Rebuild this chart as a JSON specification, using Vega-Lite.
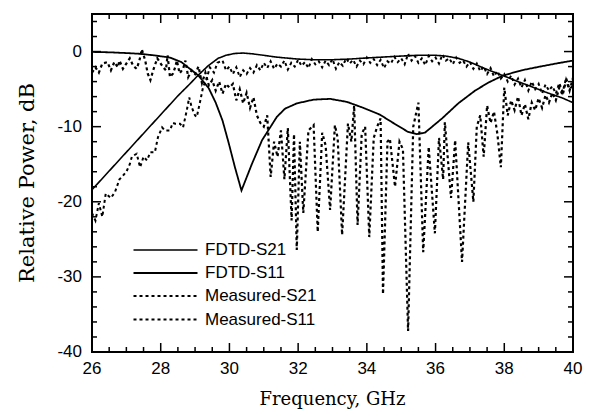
{
 "$schema": "https://vega.github.io/schema/vega-lite/v6.json",
 "width": 481, "height": 338,
 "autosize": "none",
 "padding": {"left": 92, "top": 14, "right": 17, "bottom": 67},
 "background": "white",
 "config": {
  "view": {"stroke": "black", "strokeWidth": 2}
 },
 "datasets": {
  "xt": [{"v":26,"k":"major"},{"v":26.5,"k":"minor"},{"v":27,"k":"minor"},{"v":27.5,"k":"minor"},{"v":28,"k":"major"},{"v":28.5,"k":"minor"},{"v":29,"k":"minor"},{"v":29.5,"k":"minor"},{"v":30,"k":"major"},{"v":30.5,"k":"minor"},{"v":31,"k":"minor"},{"v":31.5,"k":"minor"},{"v":32,"k":"major"},{"v":32.5,"k":"minor"},{"v":33,"k":"minor"},{"v":33.5,"k":"minor"},{"v":34,"k":"major"},{"v":34.5,"k":"minor"},{"v":35,"k":"minor"},{"v":35.5,"k":"minor"},{"v":36,"k":"major"},{"v":36.5,"k":"minor"},{"v":37,"k":"minor"},{"v":37.5,"k":"minor"},{"v":38,"k":"major"},{"v":38.5,"k":"minor"},{"v":39,"k":"minor"},{"v":39.5,"k":"minor"},{"v":40,"k":"major"}],
  "yt": [{"v":-40,"k":"major"},{"v":-38,"k":"minor"},{"v":-36,"k":"minor"},{"v":-34,"k":"minor"},{"v":-32,"k":"minor"},{"v":-30,"k":"major"},{"v":-28,"k":"minor"},{"v":-26,"k":"minor"},{"v":-24,"k":"minor"},{"v":-22,"k":"minor"},{"v":-20,"k":"major"},{"v":-18,"k":"minor"},{"v":-16,"k":"minor"},{"v":-14,"k":"minor"},{"v":-12,"k":"minor"},{"v":-10,"k":"major"},{"v":-8,"k":"minor"},{"v":-6,"k":"minor"},{"v":-4,"k":"minor"},{"v":-2,"k":"minor"},{"v":0,"k":"major"},{"v":2,"k":"minor"},{"v":4,"k":"minor"}]
 },
 "data": {"values": [
  {"series":"FDTD-S21","freq":26,"db":-18.4},{"series":"FDTD-S21","freq":27,"db":-13.4},{"series":"FDTD-S21","freq":28,"db":-8.4},{"series":"FDTD-S21","freq":28.5,"db":-5.9},{"series":"FDTD-S21","freq":28.85,"db":-4.3},{"series":"FDTD-S21","freq":29.08,"db":-3.2},{"series":"FDTD-S21","freq":29.38,"db":-1.9},{"series":"FDTD-S21","freq":29.67,"db":-0.9},{"series":"FDTD-S21","freq":29.9,"db":-0.5},{"series":"FDTD-S21","freq":30.16,"db":-0.25},{"series":"FDTD-S21","freq":30.4,"db":-0.2},{"series":"FDTD-S21","freq":30.66,"db":-0.3},{"series":"FDTD-S21","freq":31.0,"db":-0.5},{"series":"FDTD-S21","freq":31.3,"db":-0.7},{"series":"FDTD-S21","freq":31.62,"db":-0.85},{"series":"FDTD-S21","freq":32.0,"db":-1.0},{"series":"FDTD-S21","freq":32.5,"db":-1.1},{"series":"FDTD-S21","freq":32.93,"db":-1.1},{"series":"FDTD-S21","freq":33.5,"db":-1.0},{"series":"FDTD-S21","freq":34.0,"db":-0.85},{"series":"FDTD-S21","freq":34.4,"db":-0.75},{"series":"FDTD-S21","freq":35.0,"db":-0.6},{"series":"FDTD-S21","freq":35.5,"db":-0.5},{"series":"FDTD-S21","freq":36.0,"db":-0.5},{"series":"FDTD-S21","freq":36.3,"db":-0.6},{"series":"FDTD-S21","freq":36.66,"db":-0.9},{"series":"FDTD-S21","freq":37.0,"db":-1.4},{"series":"FDTD-S21","freq":37.4,"db":-2.2},{"series":"FDTD-S21","freq":37.96,"db":-3.2},{"series":"FDTD-S21","freq":38.4,"db":-4.0},{"series":"FDTD-S21","freq":38.75,"db":-4.6},{"series":"FDTD-S21","freq":39.2,"db":-5.4},{"series":"FDTD-S21","freq":39.7,"db":-6.2},{"series":"FDTD-S21","freq":40,"db":-6.8},
  {"series":"FDTD-S11","freq":26,"db":-0.05},{"series":"FDTD-S11","freq":26.5,"db":-0.1},{"series":"FDTD-S11","freq":27,"db":-0.2},{"series":"FDTD-S11","freq":27.4,"db":-0.3},{"series":"FDTD-S11","freq":27.8,"db":-0.5},{"series":"FDTD-S11","freq":28.27,"db":-0.8},{"series":"FDTD-S11","freq":28.6,"db":-1.4},{"series":"FDTD-S11","freq":28.85,"db":-2.3},{"series":"FDTD-S11","freq":29.1,"db":-3.2},{"series":"FDTD-S11","freq":29.4,"db":-4.9},{"series":"FDTD-S11","freq":29.6,"db":-6.8},{"series":"FDTD-S11","freq":29.8,"db":-9.2},{"series":"FDTD-S11","freq":29.98,"db":-12.2},{"series":"FDTD-S11","freq":30.16,"db":-15.4},{"series":"FDTD-S11","freq":30.35,"db":-18.5},{"series":"FDTD-S11","freq":30.66,"db":-14.9},{"series":"FDTD-S11","freq":30.95,"db":-11.8},{"series":"FDTD-S11","freq":31.13,"db":-10.5},{"series":"FDTD-S11","freq":31.38,"db":-8.7},{"series":"FDTD-S11","freq":31.62,"db":-7.6},{"series":"FDTD-S11","freq":31.96,"db":-6.9},{"series":"FDTD-S11","freq":32.45,"db":-6.4},{"series":"FDTD-S11","freq":32.93,"db":-6.3},{"series":"FDTD-S11","freq":33.42,"db":-6.7},{"series":"FDTD-S11","freq":33.9,"db":-7.5},{"series":"FDTD-S11","freq":34.38,"db":-8.4},{"series":"FDTD-S11","freq":34.73,"db":-9.4},{"series":"FDTD-S11","freq":35.2,"db":-10.7},{"series":"FDTD-S11","freq":35.45,"db":-11.0},{"series":"FDTD-S11","freq":35.69,"db":-10.8},{"series":"FDTD-S11","freq":36.19,"db":-8.9},{"series":"FDTD-S11","freq":36.66,"db":-6.9},{"series":"FDTD-S11","freq":37.15,"db":-5.2},{"series":"FDTD-S11","freq":37.55,"db":-4.1},{"series":"FDTD-S11","freq":37.96,"db":-3.2},{"series":"FDTD-S11","freq":38.5,"db":-2.5},{"series":"FDTD-S11","freq":39.04,"db":-2.0},{"series":"FDTD-S11","freq":39.5,"db":-1.6},{"series":"FDTD-S11","freq":40,"db":-1.2},
  {"series":"Measured-S21","freq":26.0,"db":-21.5},{"series":"Measured-S21","freq":26.1,"db":-22.5},{"series":"Measured-S21","freq":26.2,"db":-20.2},{"series":"Measured-S21","freq":26.3,"db":-22.0},{"series":"Measured-S21","freq":26.4,"db":-18.9},{"series":"Measured-S21","freq":26.55,"db":-19.5},{"series":"Measured-S21","freq":26.67,"db":-18.7},{"series":"Measured-S21","freq":26.8,"db":-17.0},{"series":"Measured-S21","freq":26.87,"db":-16.7},{"series":"Measured-S21","freq":27.0,"db":-16.0},{"series":"Measured-S21","freq":27.1,"db":-15.0},{"series":"Measured-S21","freq":27.16,"db":-14.0},{"series":"Measured-S21","freq":27.3,"db":-13.6},{"series":"Measured-S21","freq":27.4,"db":-15.4},{"series":"Measured-S21","freq":27.5,"db":-14.0},{"series":"Measured-S21","freq":27.6,"db":-14.5},{"series":"Measured-S21","freq":27.7,"db":-13.4},{"series":"Measured-S21","freq":27.83,"db":-13.4},{"series":"Measured-S21","freq":27.92,"db":-11.4},{"series":"Measured-S21","freq":28.04,"db":-10.1},{"series":"Measured-S21","freq":28.12,"db":-10.5},{"series":"Measured-S21","freq":28.27,"db":-10.5},{"series":"Measured-S21","freq":28.35,"db":-9.5},{"series":"Measured-S21","freq":28.42,"db":-9.6},{"series":"Measured-S21","freq":28.56,"db":-9.6},{"series":"Measured-S21","freq":28.65,"db":-10.1},{"series":"Measured-S21","freq":28.76,"db":-7.8},{"series":"Measured-S21","freq":28.83,"db":-6.1},{"series":"Measured-S21","freq":28.9,"db":-7.4},{"series":"Measured-S21","freq":29.0,"db":-8.5},{"series":"Measured-S21","freq":29.05,"db":-8.7},{"series":"Measured-S21","freq":29.14,"db":-6.8},{"series":"Measured-S21","freq":29.23,"db":-4.8},{"series":"Measured-S21","freq":29.35,"db":-3.4},{"series":"Measured-S21","freq":29.43,"db":-2.1},{"series":"Measured-S21","freq":29.55,"db":-2.8},{"series":"Measured-S21","freq":29.65,"db":-1.5},{"series":"Measured-S21","freq":29.8,"db":-1.2},{"series":"Measured-S21","freq":29.9,"db":-2.5},{"series":"Measured-S21","freq":30.0,"db":-2.0},{"series":"Measured-S21","freq":30.1,"db":-3.0},{"series":"Measured-S21","freq":30.2,"db":-2.1},{"series":"Measured-S21","freq":30.3,"db":-3.4},{"series":"Measured-S21","freq":30.4,"db":-2.5},{"series":"Measured-S21","freq":30.5,"db":-3.0},{"series":"Measured-S21","freq":30.6,"db":-2.2},{"series":"Measured-S21","freq":30.7,"db":-2.8},{"series":"Measured-S21","freq":30.8,"db":-1.8},{"series":"Measured-S21","freq":30.9,"db":-2.5},{"series":"Measured-S21","freq":31.0,"db":-1.5},{"series":"Measured-S21","freq":31.1,"db":-2.2},{"series":"Measured-S21","freq":31.2,"db":-1.3},{"series":"Measured-S21","freq":31.3,"db":-2.3},{"series":"Measured-S21","freq":31.4,"db":-1.6},{"series":"Measured-S21","freq":31.5,"db":-2.0},{"series":"Measured-S21","freq":31.6,"db":-1.2},{"series":"Measured-S21","freq":31.7,"db":-2.4},{"series":"Measured-S21","freq":31.8,"db":-1.5},{"series":"Measured-S21","freq":31.9,"db":-2.0},{"series":"Measured-S21","freq":32.0,"db":-1.1},{"series":"Measured-S21","freq":32.1,"db":-1.9},{"series":"Measured-S21","freq":32.2,"db":-1.4},{"series":"Measured-S21","freq":32.3,"db":-2.2},{"series":"Measured-S21","freq":32.4,"db":-1.0},{"series":"Measured-S21","freq":32.5,"db":-1.7},{"series":"Measured-S21","freq":32.6,"db":-1.3},{"series":"Measured-S21","freq":32.7,"db":-2.1},{"series":"Measured-S21","freq":32.8,"db":-1.2},{"series":"Measured-S21","freq":32.9,"db":-1.8},{"series":"Measured-S21","freq":33.0,"db":-1.0},{"series":"Measured-S21","freq":33.1,"db":-2.3},{"series":"Measured-S21","freq":33.2,"db":-1.4},{"series":"Measured-S21","freq":33.3,"db":-1.9},{"series":"Measured-S21","freq":33.4,"db":-0.9},{"series":"Measured-S21","freq":33.5,"db":-1.6},{"series":"Measured-S21","freq":33.6,"db":-1.1},{"series":"Measured-S21","freq":33.7,"db":-2.0},{"series":"Measured-S21","freq":33.8,"db":-1.2},{"series":"Measured-S21","freq":33.9,"db":-1.7},{"series":"Measured-S21","freq":34.0,"db":-0.8},{"series":"Measured-S21","freq":34.1,"db":-1.5},{"series":"Measured-S21","freq":34.2,"db":-1.0},{"series":"Measured-S21","freq":34.3,"db":-1.8},{"series":"Measured-S21","freq":34.4,"db":-1.1},{"series":"Measured-S21","freq":34.5,"db":-2.2},{"series":"Measured-S21","freq":34.6,"db":-1.3},{"series":"Measured-S21","freq":34.7,"db":-1.6},{"series":"Measured-S21","freq":34.8,"db":-0.7},{"series":"Measured-S21","freq":34.9,"db":-1.4},{"series":"Measured-S21","freq":35.0,"db":-0.9},{"series":"Measured-S21","freq":35.1,"db":-1.7},{"series":"Measured-S21","freq":35.2,"db":-0.3},{"series":"Measured-S21","freq":35.3,"db":-1.2},{"series":"Measured-S21","freq":35.4,"db":-0.6},{"series":"Measured-S21","freq":35.5,"db":-1.5},{"series":"Measured-S21","freq":35.6,"db":-0.9},{"series":"Measured-S21","freq":35.7,"db":-1.8},{"series":"Measured-S21","freq":35.8,"db":-0.6},{"series":"Measured-S21","freq":35.9,"db":-1.3},{"series":"Measured-S21","freq":36.0,"db":-0.8},{"series":"Measured-S21","freq":36.1,"db":-1.6},{"series":"Measured-S21","freq":36.2,"db":-0.4},{"series":"Measured-S21","freq":36.3,"db":-1.2},{"series":"Measured-S21","freq":36.4,"db":-0.9},{"series":"Measured-S21","freq":36.5,"db":-1.7},{"series":"Measured-S21","freq":36.6,"db":-0.8},{"series":"Measured-S21","freq":36.7,"db":-1.5},{"series":"Measured-S21","freq":36.8,"db":-1.2},{"series":"Measured-S21","freq":36.9,"db":-2.0},{"series":"Measured-S21","freq":37.0,"db":-1.4},{"series":"Measured-S21","freq":37.1,"db":-2.3},{"series":"Measured-S21","freq":37.2,"db":-1.6},{"series":"Measured-S21","freq":37.3,"db":-2.6},{"series":"Measured-S21","freq":37.4,"db":-2.0},{"series":"Measured-S21","freq":37.5,"db":-3.0},{"series":"Measured-S21","freq":37.6,"db":-2.2},{"series":"Measured-S21","freq":37.7,"db":-3.3},{"series":"Measured-S21","freq":37.8,"db":-2.6},{"series":"Measured-S21","freq":37.9,"db":-3.6},{"series":"Measured-S21","freq":38.0,"db":-3.0},{"series":"Measured-S21","freq":38.1,"db":-4.0},{"series":"Measured-S21","freq":38.2,"db":-3.2},{"series":"Measured-S21","freq":38.3,"db":-4.4},{"series":"Measured-S21","freq":38.4,"db":-3.6},{"series":"Measured-S21","freq":38.5,"db":-4.8},{"series":"Measured-S21","freq":38.6,"db":-3.8},{"series":"Measured-S21","freq":38.7,"db":-5.2},{"series":"Measured-S21","freq":38.8,"db":-4.0},{"series":"Measured-S21","freq":38.9,"db":-5.0},{"series":"Measured-S21","freq":39.0,"db":-4.3},{"series":"Measured-S21","freq":39.1,"db":-5.6},{"series":"Measured-S21","freq":39.2,"db":-4.4},{"series":"Measured-S21","freq":39.3,"db":-5.2},{"series":"Measured-S21","freq":39.4,"db":-4.6},{"series":"Measured-S21","freq":39.5,"db":-5.6},{"series":"Measured-S21","freq":39.6,"db":-4.2},{"series":"Measured-S21","freq":39.7,"db":-5.4},{"series":"Measured-S21","freq":39.8,"db":-3.5},{"series":"Measured-S21","freq":39.9,"db":-5.0},{"series":"Measured-S21","freq":40.0,"db":-4.5},
  {"series":"Measured-S11","freq":26.0,"db":-2.8},{"series":"Measured-S11","freq":26.1,"db":-2.1},{"series":"Measured-S11","freq":26.2,"db":-2.8},{"series":"Measured-S11","freq":26.3,"db":-1.6},{"series":"Measured-S11","freq":26.45,"db":-1.4},{"series":"Measured-S11","freq":26.55,"db":-2.5},{"series":"Measured-S11","freq":26.65,"db":-1.4},{"series":"Measured-S11","freq":26.75,"db":-2.1},{"series":"Measured-S11","freq":26.8,"db":-1.2},{"series":"Measured-S11","freq":26.9,"db":-2.3},{"series":"Measured-S11","freq":27.0,"db":-1.6},{"series":"Measured-S11","freq":27.1,"db":-0.9},{"series":"Measured-S11","freq":27.2,"db":-1.9},{"series":"Measured-S11","freq":27.3,"db":-2.3},{"series":"Measured-S11","freq":27.38,"db":-1.2},{"series":"Measured-S11","freq":27.45,"db":0.3},{"series":"Measured-S11","freq":27.55,"db":-1.2},{"series":"Measured-S11","freq":27.62,"db":-2.9},{"series":"Measured-S11","freq":27.7,"db":-3.8},{"series":"Measured-S11","freq":27.78,"db":-2.5},{"series":"Measured-S11","freq":27.9,"db":-0.9},{"series":"Measured-S11","freq":28.0,"db":-1.6},{"series":"Measured-S11","freq":28.07,"db":-2.1},{"series":"Measured-S11","freq":28.15,"db":-2.5},{"series":"Measured-S11","freq":28.2,"db":-0.5},{"series":"Measured-S11","freq":28.27,"db":-3.4},{"series":"Measured-S11","freq":28.36,"db":-2.9},{"series":"Measured-S11","freq":28.42,"db":-2.1},{"series":"Measured-S11","freq":28.47,"db":-1.2},{"series":"Measured-S11","freq":28.55,"db":-2.9},{"series":"Measured-S11","freq":28.65,"db":-2.3},{"series":"Measured-S11","freq":28.72,"db":-1.2},{"series":"Measured-S11","freq":28.8,"db":-3.4},{"series":"Measured-S11","freq":28.9,"db":-2.5},{"series":"Measured-S11","freq":29.0,"db":-3.0},{"series":"Measured-S11","freq":29.1,"db":-2.0},{"series":"Measured-S11","freq":29.2,"db":-4.2},{"series":"Measured-S11","freq":29.3,"db":-2.8},{"series":"Measured-S11","freq":29.4,"db":-4.5},{"series":"Measured-S11","freq":29.5,"db":-3.8},{"series":"Measured-S11","freq":29.6,"db":-5.2},{"series":"Measured-S11","freq":29.7,"db":-4.0},{"series":"Measured-S11","freq":29.8,"db":-5.6},{"series":"Measured-S11","freq":29.9,"db":-4.3},{"series":"Measured-S11","freq":30.0,"db":-4.8},{"series":"Measured-S11","freq":30.1,"db":-4.3},{"series":"Measured-S11","freq":30.2,"db":-6.5},{"series":"Measured-S11","freq":30.3,"db":-5.0},{"series":"Measured-S11","freq":30.4,"db":-6.9},{"series":"Measured-S11","freq":30.5,"db":-5.5},{"series":"Measured-S11","freq":30.6,"db":-7.5},{"series":"Measured-S11","freq":30.7,"db":-6.1},{"series":"Measured-S11","freq":30.8,"db":-8.5},{"series":"Measured-S11","freq":30.9,"db":-9.5},{"series":"Measured-S11","freq":31.0,"db":-10.0},{"series":"Measured-S11","freq":31.1,"db":-8.5},{"series":"Measured-S11","freq":31.2,"db":-16.7},{"series":"Measured-S11","freq":31.3,"db":-12.0},{"series":"Measured-S11","freq":31.4,"db":-14.0},{"series":"Measured-S11","freq":31.5,"db":-10.5},{"series":"Measured-S11","freq":31.6,"db":-17.0},{"series":"Measured-S11","freq":31.7,"db":-10.2},{"series":"Measured-S11","freq":31.81,"db":-22.5},{"series":"Measured-S11","freq":31.88,"db":-11.0},{"series":"Measured-S11","freq":31.96,"db":-26.4},{"series":"Measured-S11","freq":32.05,"db":-12.0},{"series":"Measured-S11","freq":32.15,"db":-21.5},{"series":"Measured-S11","freq":32.3,"db":-10.5},{"series":"Measured-S11","freq":32.45,"db":-9.8},{"series":"Measured-S11","freq":32.57,"db":-24.0},{"series":"Measured-S11","freq":32.7,"db":-10.8},{"series":"Measured-S11","freq":32.8,"db":-12.5},{"series":"Measured-S11","freq":32.93,"db":-21.1},{"series":"Measured-S11","freq":33.07,"db":-9.8},{"series":"Measured-S11","freq":33.15,"db":-11.5},{"series":"Measured-S11","freq":33.28,"db":-24.4},{"series":"Measured-S11","freq":33.45,"db":-9.6},{"series":"Measured-S11","freq":33.55,"db":-12.0},{"series":"Measured-S11","freq":33.63,"db":-7.2},{"series":"Measured-S11","freq":33.73,"db":-23.1},{"series":"Measured-S11","freq":33.85,"db":-11.0},{"series":"Measured-S11","freq":33.95,"db":-10.0},{"series":"Measured-S11","freq":34.07,"db":-24.7},{"series":"Measured-S11","freq":34.2,"db":-11.5},{"series":"Measured-S11","freq":34.3,"db":-10.0},{"series":"Measured-S11","freq":34.4,"db":-8.9},{"series":"Measured-S11","freq":34.47,"db":-32.3},{"series":"Measured-S11","freq":34.6,"db":-12.0},{"series":"Measured-S11","freq":34.67,"db":-11.6},{"series":"Measured-S11","freq":34.82,"db":-18.0},{"series":"Measured-S11","freq":34.95,"db":-12.0},{"series":"Measured-S11","freq":35.05,"db":-13.0},{"series":"Measured-S11","freq":35.2,"db":-37.2},{"series":"Measured-S11","freq":35.35,"db":-10.0},{"series":"Measured-S11","freq":35.5,"db":-6.8},{"series":"Measured-S11","freq":35.64,"db":-26.7},{"series":"Measured-S11","freq":35.8,"db":-12.7},{"series":"Measured-S11","freq":35.98,"db":-24.2},{"series":"Measured-S11","freq":36.1,"db":-11.5},{"series":"Measured-S11","freq":36.22,"db":-17.0},{"series":"Measured-S11","freq":36.27,"db":-9.4},{"series":"Measured-S11","freq":36.45,"db":-19.5},{"series":"Measured-S11","freq":36.57,"db":-11.8},{"series":"Measured-S11","freq":36.77,"db":-28.0},{"series":"Measured-S11","freq":36.95,"db":-12.1},{"series":"Measured-S11","freq":37.1,"db":-20.0},{"series":"Measured-S11","freq":37.2,"db":-10.0},{"series":"Measured-S11","freq":37.3,"db":-8.5},{"series":"Measured-S11","freq":37.4,"db":-14.0},{"series":"Measured-S11","freq":37.5,"db":-7.2},{"series":"Measured-S11","freq":37.6,"db":-9.5},{"series":"Measured-S11","freq":37.7,"db":-8.0},{"series":"Measured-S11","freq":37.8,"db":-11.0},{"series":"Measured-S11","freq":37.9,"db":-15.4},{"series":"Measured-S11","freq":38.0,"db":-4.8},{"series":"Measured-S11","freq":38.1,"db":-8.5},{"series":"Measured-S11","freq":38.2,"db":-6.5},{"series":"Measured-S11","freq":38.3,"db":-7.8},{"series":"Measured-S11","freq":38.4,"db":-6.0},{"series":"Measured-S11","freq":38.5,"db":-8.5},{"series":"Measured-S11","freq":38.6,"db":-7.0},{"series":"Measured-S11","freq":38.7,"db":-9.0},{"series":"Measured-S11","freq":38.8,"db":-6.8},{"series":"Measured-S11","freq":38.9,"db":-7.8},{"series":"Measured-S11","freq":39.0,"db":-6.2},{"series":"Measured-S11","freq":39.1,"db":-7.5},{"series":"Measured-S11","freq":39.2,"db":-5.8},{"series":"Measured-S11","freq":39.3,"db":-6.8},{"series":"Measured-S11","freq":39.4,"db":-5.5},{"series":"Measured-S11","freq":39.5,"db":-6.5},{"series":"Measured-S11","freq":39.6,"db":-4.8},{"series":"Measured-S11","freq":39.7,"db":-5.8},{"series":"Measured-S11","freq":39.8,"db":-3.8},{"series":"Measured-S11","freq":39.9,"db":-5.2},{"series":"Measured-S11","freq":40.0,"db":-3.5}
 ]},
 "layer": [
  {
   "mark": {"type": "line", "color": "black"},
   "encoding": {
    "x": {"field": "freq", "type": "quantitative", "scale": {"domain": [26, 40], "nice": false, "zero": false}, "axis": null},
    "y": {"field": "db", "type": "quantitative", "scale": {"domain": [-40, 5], "nice": false, "zero": false}, "axis": null},
    "strokeDash": {"field": "series", "type": "nominal",
      "scale": {"domain": ["FDTD-S21","FDTD-S11","Measured-S21","Measured-S11"], "range": [[1,0],[1,0],[3,3],[3,3]]},
      "legend": {"orient": "none", "legendX": 64, "legendY": 227, "title": null, "symbolType": "M-4,0H4", "symbolSize": 256, "symbolStrokeColor": "black", "labelFont": "Liberation Sans", "labelFontSize": 17, "labelColor": "black", "labelOffset": 30, "rowPadding": 6, "padding": 0}},
    "strokeWidth": {"field": "series", "type": "nominal",
      "scale": {"domain": ["FDTD-S21","FDTD-S11","Measured-S21","Measured-S11"], "range": [1.6, 2.2, 1.6, 1.6]},
      "legend": {"orient": "none", "legendX": 64, "legendY": 227, "title": null, "symbolType": "M-4,0H4", "symbolSize": 256, "symbolStrokeColor": "black", "labelFont": "Liberation Sans", "labelFontSize": 17, "labelColor": "black", "labelOffset": 30, "rowPadding": 6, "padding": 0}}
   }
  },
  {
   "data": {"name": "xt"},
   "mark": {"type": "tick", "orient": "vertical", "clip": true, "color": "black", "thickness": 1.5, "opacity": 1},
   "encoding": {
    "x": {"field": "v", "type": "quantitative", "axis": null},
    "y": {"datum": -40, "type": "quantitative", "axis": null},
    "size": {"field": "k", "type": "ordinal", "scale": {"domain": ["major","minor"], "range": [18, 10]}, "legend": null}
   }
  },
  {
   "data": {"name": "xt"},
   "mark": {"type": "tick", "orient": "vertical", "clip": true, "color": "black", "thickness": 1.5, "opacity": 1},
   "encoding": {
    "x": {"field": "v", "type": "quantitative", "axis": null},
    "y": {"datum": 5, "type": "quantitative", "axis": null},
    "size": {"field": "k", "type": "ordinal", "scale": {"domain": ["major","minor"], "range": [18, 10]}, "legend": null}
   }
  },
  {
   "data": {"name": "yt"},
   "mark": {"type": "tick", "orient": "horizontal", "clip": true, "color": "black", "thickness": 1.5, "opacity": 1},
   "encoding": {
    "y": {"field": "v", "type": "quantitative", "axis": null},
    "x": {"datum": 26, "type": "quantitative", "axis": null},
    "size": {"field": "k", "type": "ordinal", "scale": {"domain": ["major","minor"], "range": [18, 10]}, "legend": null}
   }
  },
  {
   "data": {"name": "yt"},
   "mark": {"type": "tick", "orient": "horizontal", "clip": true, "color": "black", "thickness": 1.5, "opacity": 1},
   "encoding": {
    "y": {"field": "v", "type": "quantitative", "axis": null},
    "x": {"datum": 40, "type": "quantitative", "axis": null},
    "size": {"field": "k", "type": "ordinal", "scale": {"domain": ["major","minor"], "range": [18, 10]}, "legend": null}
   }
  },
  {
   "data": {"name": "xt"},
   "transform": [{"filter": "datum.k === 'major'"}],
   "mark": {"type": "text", "baseline": "top", "align": "center", "dy": 9, "font": "Liberation Sans", "fontSize": 17, "color": "black"},
   "encoding": {
    "x": {"field": "v", "type": "quantitative", "axis": null},
    "y": {"datum": -40, "type": "quantitative", "axis": null},
    "text": {"field": "v", "type": "nominal"}
   }
  },
  {
   "data": {"name": "yt"},
   "transform": [{"filter": "datum.k === 'major'"}],
   "mark": {"type": "text", "baseline": "middle", "align": "right", "dx": -10, "font": "Liberation Sans", "fontSize": 17, "color": "black"},
   "encoding": {
    "y": {"field": "v", "type": "quantitative", "axis": null},
    "x": {"datum": 26, "type": "quantitative", "axis": null},
    "text": {"field": "v", "type": "nominal"}
   }
  },
  {
   "data": {"values": [{"label": "Frequency, GHz", "f": 33, "d": -40}]},
   "mark": {"type": "text", "baseline": "top", "align": "center", "dy": 39, "font": "DejaVu Serif", "fontSize": 18, "color": "black"},
   "encoding": {
    "x": {"field": "f", "type": "quantitative", "axis": null},
    "y": {"field": "d", "type": "quantitative", "axis": null},
    "text": {"field": "label", "type": "nominal"}
   }
  },
  {
   "data": {"values": [{"label": "Relative Power, dB", "f": 26, "d": -17.5}]},
   "mark": {"type": "text", "baseline": "middle", "align": "center", "angle": 270, "dy": -64, "font": "DejaVu Serif", "fontSize": 21, "color": "black"},
   "encoding": {
    "x": {"field": "f", "type": "quantitative", "axis": null},
    "y": {"field": "d", "type": "quantitative", "axis": null},
    "text": {"field": "label", "type": "nominal"}
   }
  }
 ]
}
